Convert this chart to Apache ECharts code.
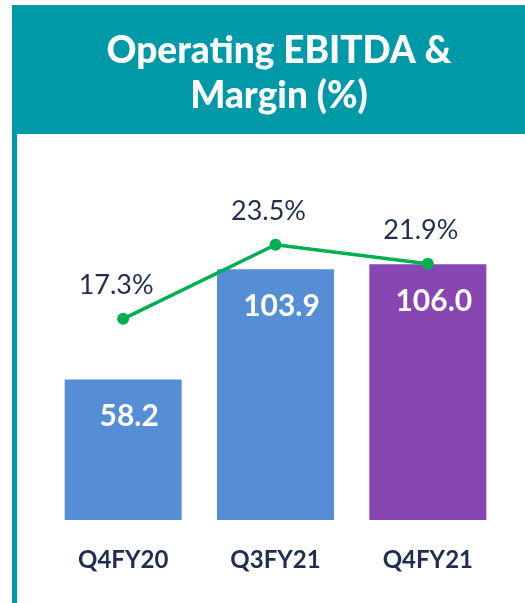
<!DOCTYPE html>
<html>
<head>
<meta charset="utf-8">
<script src="https://cdn.jsdelivr.net/npm/echarts@6/dist/echarts.min.js"></script>
<style>
  html, body { margin: 0; padding: 0; background: #fff; }
  #chart { width: 525px; height: 603px; }
</style>
</head>
<body>
<div id="chart"></div>
<script>
// data
const categories = ["Q4FY20", "Q3FY21", "Q4FY21"];
const ebitda = [58.2, 103.9, 106.0];
const margin = [17.3, 23.5, 21.9];
const barColors = ["#558ED5", "#558ED5", "#8746B2"];

const teal = "#0099A8";
const navy = "#1F2D50";

const chart = echarts.init(document.getElementById("chart"));

const option = {
  animation: false,
  title: {
    text: "Operating EBITDA &\nMargin (%)",
    left: 274,
    top: 24,
    textAlign: "center",
    textStyle: {
      color: "#fff",
      fontFamily: "Lato",
      fontWeight: 900,
      fontSize: 37,
      lineHeight: 45,
    },
  },
  graphic: [
    // header band
    { type: "rect", left: 12, top: 5, shape: { width: 513, height: 129 }, style: { fill: teal }, z: -1 },
    // left border line
    { type: "rect", left: 12, top: 5, shape: { width: 5, height: 598 }, style: { fill: teal }, z: -1 },
  ],
  grid: { left: 47, right: 21, top: 134, bottom: 83 },
  xAxis: {
    type: "category",
    data: categories,
    axisLine: { show: false },
    axisTick: { show: false },
    axisLabel: {
      margin: 28,
      color: navy,
      fontFamily: "Lato",
      fontWeight: "bold",
      fontSize: 24,
    },
  },
  yAxis: [
    { type: "value", min: 0, max: 160, show: false, splitLine: { show: false } },
    { type: "value", min: 0.46, max: 32.77, show: false, splitLine: { show: false } },
  ],
  series: [
    {
      type: "bar",
      barWidth: 117,
      data: ebitda.map((v, i) => ({ value: v, itemStyle: { color: barColors[i] } })),
      label: {
        show: true,
        position: "insideTop",
        distance: 22,
        offset: [6, 0],
        color: "#fff",
        fontFamily: "Lato",
        fontWeight: "bold",
        fontSize: 30,
        formatter: (p) => p.value.toFixed(1),
      },
    },
    {
      type: "line",
      yAxisIndex: 1,
      data: margin,
      symbol: "circle",
      symbolSize: 12,
      lineStyle: { color: "#00B050", width: 3.5 },
      itemStyle: { color: "#00B050" },
      label: {
        show: true,
        position: "top",
        distance: 14,
        offset: [-7, 0],
        color: navy,
        fontFamily: "Lato",
        fontSize: 27,
        formatter: (p) => p.value.toFixed(1) + "%",
      },
    },
  ],
};

chart.setOption(option);
</script>
</body>
</html>
